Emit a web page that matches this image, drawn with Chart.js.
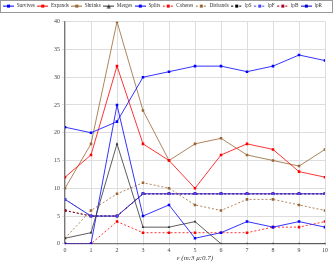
<!DOCTYPE html>
<html>
<head>
  <script src="https://cdn.jsdelivr.net/npm/chart.js"></script>
  <style>
    body { margin: 0; background: #fff; }
    #wrap { width: 333px; height: 262px; }
  </style>
</head>
<body>
  <div id="wrap"><canvas id="c"></canvas></div>
  <script>
    const xs = [0, 1, 2, 3, 4, 5, 6, 7, 8, 9, 10];
    const survives = [21, 20, 22, 30, 31, 32, 32, 31, 32, 34, 33];
    const expands  = [12, 16, 32, 18, 15, 10, 16, 18, 17, 13, 12];
    const shrinks  = [10, 18, 40, 24, 15, 18, 19, 16, 15, 14, 17];
    const merges   = [1, 2, 18, 3, 3, 4, 0, 0, 0, 0, 0];
    const splits   = [0, 0, 25, 5, 7, 1, 2, 4, 3, 4, 3];
    const coheres  = [0, 0, 4, 2, 2, 2, 2, 2, 3, 3, 4];
    const disbands = [1, 6, 9, 11, 10, 7, 6, 8, 8, 7, 6];
    const lpS = [6, 5, 5, 9, 9, 9, 9, 9, 9, 9, 9];
    const lpF = [8, 5, 5, 9, 9, 9, 9, 9, 9, 9, 9];
    const lpB = [6, 5, 5, 9, 9, 9, 9, 9, 9, 9, 9];
    const lpR = [8, 5, 5, 9, 9, 9, 9, 9, 9, 9, 9];

    const FONT = 'Liberation Serif';
    const brown = '#996633';

    // legend sample: short line with a marker in the middle
    function sample(color, dash, shape) {
      const cv = document.createElement('canvas');
      cv.width = 11; cv.height = 5;
      const g = cv.getContext('2d');
      g.strokeStyle = color; g.lineWidth = 1;
      g.setLineDash(dash || []);
      g.beginPath(); g.moveTo(0, 2.5); g.lineTo(11, 2.5); g.stroke();
      g.fillStyle = color;
      if (shape === 'tri') {
        g.beginPath(); g.moveTo(5.5, 0.5); g.lineTo(7.5, 4.5); g.lineTo(3.5, 4.5); g.fill();
      } else {
        g.fillRect(4, 1, 3, 3);
      }
      return cv;
    }

    function ds(label, data, color, dash, shape) {
      return {
        label: label,
        data: data.map((v, i) => ({ x: xs[i], y: v })),
        borderColor: color,
        backgroundColor: color,
        borderWidth: 0.8,
        borderDash: dash || [],
        pointStyle: shape === 'tri' ? 'triangle' : 'rect',
        pointRadius: shape === 'tri' ? 1.6 : 1.8,
        pointBorderWidth: 0,
        tension: 0,
        fill: false,
        _sample: sample(color, dash, shape)
      };
    }

    const datasets = [
      ds('Survives', survives, '#0000ff'),
      ds('Expands', expands, '#ff0000'),
      ds('Shrinks', shrinks, brown),
      ds('Merges', merges, '#333333', null, 'tri'),
      ds('Splits', splits, '#0000ff'),
      ds('Coheres', coheres, '#ff0000', [2, 2]),
      ds('Disbands', disbands, brown, [2, 2]),
      ds('lpS', lpS, '#000000', [2, 2]),
      ds('lpF', lpF, '#4444ff', [2, 2]),
      ds('lpB', lpB, '#aa0022', [2, 2]),
      ds('lpR', lpR, '#0000cc')
    ];
    datasets.forEach((d, i) => { d.order = i; });
    datasets[7].order = 20;

    // frame round the legend, and a little room under it
    const legendBox = {
      id: 'legendBox',
      beforeLayout(chart) {
        const l = chart.legend;
        if (l && !l._padded) {
          const fit = l.fit.bind(l);
          l.fit = function () { fit(); this.height += 3; };
          l._padded = true;
        }
      },
      afterDraw(chart) {
        const g = chart.ctx;
        g.save();
        g.strokeStyle = '#999';
        g.lineWidth = 1;
        g.strokeRect(0.5, 0.5, chart.width - 1, 12);
        g.restore();
      }
    };

    new Chart(document.getElementById('c'), {
      type: 'line',
      data: { datasets: datasets },
      plugins: [legendBox],
      options: {
        responsive: true,
        maintainAspectRatio: false,
        animation: false,
        layout: { padding: { left: 0, right: 8, top: 1, bottom: 0 } },
        plugins: {
          tooltip: { enabled: false },
          legend: {
            position: 'top',
            labels: {
              font: { family: FONT, size: 5.2 },
              color: '#333',
              usePointStyle: true,
              pointStyleWidth: 11,
              padding: 2.5,
              generateLabels(chart) {
                return chart.data.datasets.map((d, i) => ({
                  text: d.label,
                  pointStyle: d._sample,
                  datasetIndex: i,
                  hidden: false,
                  fillStyle: d.borderColor,
                  strokeStyle: d.borderColor,
                  fontColor: '#333',
                  lineWidth: 0
                }));
              }
            }
          }
        },
        scales: {
          x: {
            type: 'linear',
            min: 0, max: 10,
            ticks: { stepSize: 1, font: { family: FONT, size: 6 }, color: '#444', padding: 1 },
            grid: { color: '#dddddd', tickLength: 2 },
            border: { color: '#777', width: 1.2 },
            title: { display: true, text: 'ε (m:3 μ:0.7)', font: { family: FONT, size: 7, style: 'italic', lineHeight: 1 }, color: '#333', padding: { top: 0, bottom: 0 } }
          },
          y: {
            min: 0, max: 40,
            ticks: { stepSize: 5, font: { family: FONT, size: 6 }, color: '#444', padding: 2 },
            grid: { color: '#dddddd', tickLength: 3 },
            border: { color: '#777', width: 1.2 },
            afterFit(s) { s.width = 65; }
          }
        }
      }
    });
  </script>
</body>
</html>
